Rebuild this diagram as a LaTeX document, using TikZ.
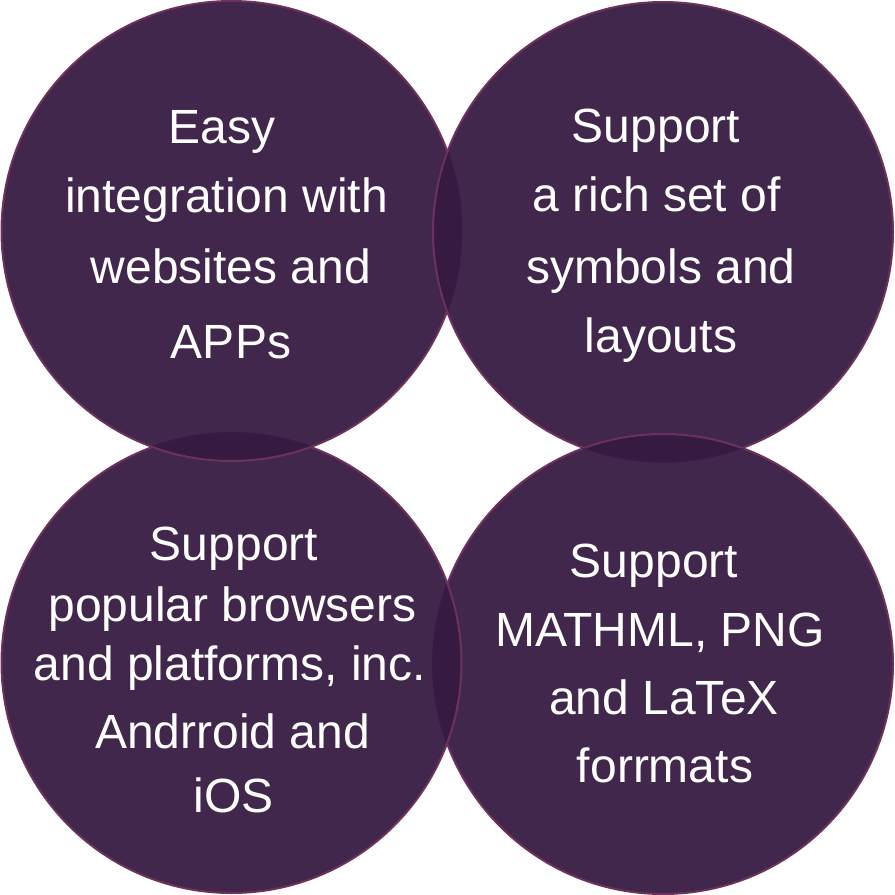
\documentclass[tikz,border=0pt]{standalone}
\usepackage{fontspec}
\setmainfont{Liberation Sans}
\definecolor{circfill}{RGB}{54,25,65}
\definecolor{circline}{RGB}{108,50,92}
\definecolor{lensfill}{RGB}{55,26,66}
\definecolor{faintline}{RGB}{57,27,67}
\tikzset{
  bubble/.style={fill=circfill, fill opacity=0.94, draw=circline, line width=2pt},
  txt/.style={anchor=base, text=white, inner sep=0pt, font=\fontsize{48}{56}\selectfont}
}
\begin{document}
\begin{tikzpicture}[x=1pt,y=-1pt]
\useasboundingbox (0,0) rectangle (895,895);
% circles (stacking TR > TL > BL > BR > TR)
\def\R{230}
\coordinate (cTL) at (231.5,231);
\coordinate (cTR) at (663,232);
\coordinate (cBL) at (231.5,663);
\coordinate (cBR) at (663,664);
\path[bubble] (cBR) circle (\R);
\path[bubble] (cBL) circle (\R);
\path[bubble] (cTL) circle (\R);
\path[bubble] (cTR) circle (\R);
% bottom-right circle lies above top-right one
\begin{scope}
  \clip (cBR) circle (\R);
  \path[fill=lensfill, draw=faintline, line width=2pt] (cTR) circle (\R);
\end{scope}
\begin{scope}
  \clip (cTR) circle (\R);
  \draw[draw=circline, line width=2pt] (cBR) circle (\R);
\end{scope}
% texts
\node[txt] (tl1) at (222,143) {Easy};
\node[txt] (tl2) at (226.5,212) {integration with};
\node[txt] (tl3) at (231,283) {websites and};
\node[txt] (tl4) at (231,358) {APPs};
\node[txt] (tr1) at (656,142) {Support};
\node[txt] (tr2) at (656.5,211) {a rich set of};
\node[txt] (tr3) at (661,283) {symbols and};
\node[txt] (tr4) at (661,352) {layouts};
\node[txt] (bl1) at (234,560) {Support};
\node[txt] (bl2) at (232.5,621) {popular browsers};
\node[txt] (bl3) at (230,680) {and platforms, inc.};
\node[txt] (bl4) at (232.5,748) {Andrroid and};
\node[txt] (bl5) at (233.5,812) {iOS};
\node[txt] (br1) at (654,577) {Support};
\node[txt] (br2) at (660,646) {MATHML, PNG};
\node[txt] (br3) at (664,714) {and LaTeX};
\node[txt] (br4) at (665,782) {forrmats};
\end{tikzpicture}
\end{document}
